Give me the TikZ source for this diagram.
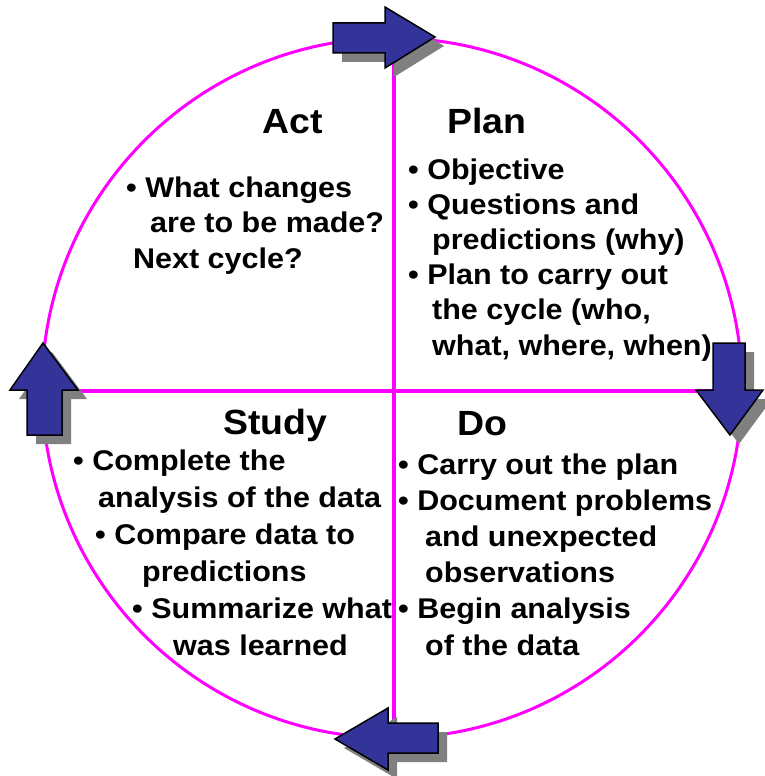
\documentclass[tikz,border=0pt]{standalone}
\usepackage{fontspec}
\setmainfont[FakeStretch=1.07]{Liberation Sans}

\definecolor{pdsamagenta}{RGB}{255,0,255}
\definecolor{pdsablue}{RGB}{51,51,153}

% block arrow with its drop shadow
\newcommand{\cyclearrow}[1]{%
  \fill[arrowshadow,shift={(9,9)}] #1 -- cycle;
  \filldraw[arrowbody] #1 -- cycle;}

\begin{document}
\begin{tikzpicture}[x=1pt, y=-1pt,
    ring/.style={pdsamagenta, line width=3pt},
    divider/.style={pdsamagenta, line width=4pt},
    arrowbody/.style={fill=pdsablue, draw=black, line width=1.5pt, line join=miter},
    arrowshadow/.style={fill=gray},
    heading/.style={anchor=base west, inner sep=0pt, font=\fontsize{35}{42}\selectfont\bfseries},
    bullets/.style={anchor=base west, inner sep=0pt, align=left, font=\fontsize{28.5}{35.2}\selectfont\bfseries}]
  \useasboundingbox (0,0) rectangle (765,776);

  \coordinate (c) at (392,388);
  \coordinate (top) at (394,38);
  \coordinate (bottom) at (394,738);
  \coordinate (left) at (42,391);
  \coordinate (right) at (742,391);

  \draw[ring] (c) circle[radius=350];
  \draw[divider] (top) -- (bottom);
  \draw[divider] (left) -- (right);

  % the four arrows round the cycle
  \cyclearrow{(333,23) -- (385,23) -- (385,7) -- (435,37) -- (385,68) -- (385,53) -- (333,53)}
  \cyclearrow{(713,343) -- (745,343) -- (745,390) -- (763,390) -- (730,435) -- (696,390) -- (713,390)}
  \cyclearrow{(438,723) -- (388,723) -- (388,708) -- (335,739) -- (388,770) -- (388,753) -- (438,753)}
  \cyclearrow{(27,435) -- (27,390) -- (10,390) -- (43,343) -- (78,390) -- (62,390) -- (62,435)}

  \node[heading] (acttitle) at (262,133) {Act};
  \node[heading] (plantitle) at (447,133) {Plan};
  \node[heading] (studytitle) at (223,434) {Study};
  \node[heading] (dotitle) at (457,435) {Do};

  % multi-line nodes sit on the baseline of their last line
  \node[bullets] (acttext) at (126,268) {\textbullet\ What changes\\\hspace*{24pt}are to be made?\\\hspace*{7pt}Next cycle?};
  \node[bullets] (plantext) at (408,355) {\textbullet\ Objective\\\textbullet\ Questions and\\\hspace*{24pt}predictions (why)\\\textbullet\ Plan to carry out\\\hspace*{24pt}the cycle (who,\\\hspace*{24pt}what, where, when)};
  \node[bullets, font=\fontsize{28.5}{37}\selectfont\bfseries] (studytext) at (73,655) {\textbullet\ Complete the\\\hspace*{25pt}analysis of the data\\\hspace*{22pt}\textbullet\ Compare data to\\\hspace*{69pt}predictions\\\hspace*{59pt}\textbullet\ Summarize what\\\hspace*{100pt}was learned};
  \node[bullets, font=\fontsize{28.5}{36.2}\selectfont\bfseries] (dotext) at (398,655) {\textbullet\ Carry out the plan\\\textbullet\ Document problems\\\hspace*{27pt}and unexpected\\\hspace*{27pt}observations\\\textbullet\ Begin analysis\\\hspace*{27pt}of the data};
\end{tikzpicture}
\end{document}
